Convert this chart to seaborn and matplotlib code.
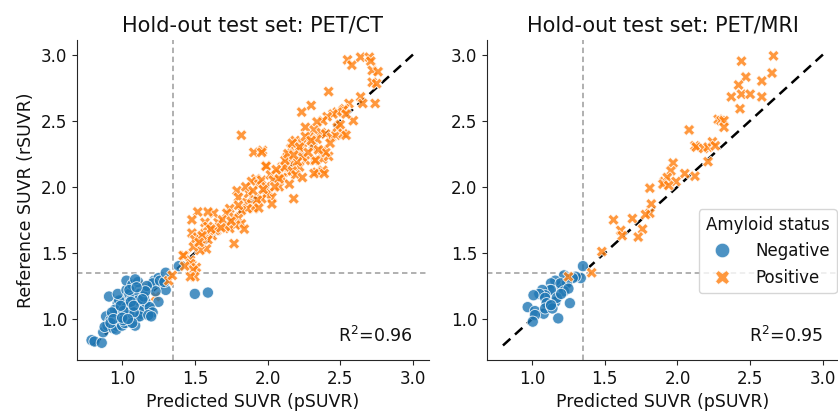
import numpy as np
import pandas as pd
import matplotlib
matplotlib.use("Agg")
import matplotlib.pyplot as plt
import seaborn as sns

# threshold (SUVR) and identity line extent
threshold = 1.35
identity = [0.8, 3.0]
r2_ct = 0.96
r2_mri = 0.95

# ---- PET/CT hold-out set ----
ct_neg_x = [0.79, 0.81, 0.86, 0.87, 0.91, 0.89, 0.92, 0.90, 0.88, 0.94, 0.96, 0.95, 0.98, 0.97, 0.99,
            1.02, 0.96, 1.00, 1.04, 1.05, 1.09, 1.11, 1.13, 1.02, 0.97, 0.97, 1.00, 1.03, 0.98, 0.95,
            1.03, 1.09, 0.97, 1.03, 1.05, 1.07, 1.11, 1.14, 1.15, 1.19, 1.19, 1.03, 1.07, 1.11, 1.09,
            1.12, 1.05, 1.16, 1.13, 1.18, 1.22, 1.25, 1.27, 1.21, 1.26, 1.30, 1.25, 1.19, 1.21, 1.18,
            1.20, 1.29, 1.30, 1.39, 1.50, 1.59, 1.12, 1.11, 1.05, 1.06, 1.08, 1.01, 1.15, 1.23, 1.17,
            0.93, 1.16, 1.10, 1.01, 1.07, 0.99, 0.92, 0.94, 1.00, 1.04, 1.08, 1.14]
ct_neg_y = [0.84, 0.83, 0.82, 0.90, 1.17, 1.02, 0.99, 0.95, 0.94, 0.93, 0.95, 0.99, 0.99, 1.04, 1.02,
            1.03, 0.92, 0.95, 1.07, 0.99, 0.95, 1.02, 1.04, 0.97, 1.12, 1.08, 1.14, 1.11, 1.14, 1.07,
            1.09, 1.09, 1.19, 1.22, 1.19, 1.16, 1.13, 1.11, 1.07, 1.03, 1.08, 1.29, 1.26, 1.28, 1.30,
            1.02, 1.03, 1.13, 1.19, 1.23, 1.29, 1.31, 1.27, 1.27, 1.29, 1.22, 1.13, 1.09, 1.05, 1.03,
            1.02, 1.28, 1.35, 1.40, 1.19, 1.20, 1.19, 1.14, 1.22, 1.13, 1.05, 1.06, 1.17, 1.21, 1.25,
            1.05, 1.21, 1.24, 0.99, 0.97, 1.10, 0.97, 1.00, 1.01, 1.00, 1.10, 1.15]
# positives partly hidden under the negative cluster
ct_pos_under_x = [1.155, 1.23]
ct_pos_under_y = [1.25, 1.17]
ct_pos_x = [2.55, 2.58, 2.64, 2.70, 2.71, 2.72, 2.76, 2.72, 2.75, 2.42, 2.64, 2.655, 2.74, 2.56, 2.59,
            2.53, 2.30, 2.235, 2.52, 2.48, 2.45, 2.41, 2.38, 2.34, 2.54, 2.26, 2.32, 2.37, 2.40, 2.44,
            2.47, 2.29, 2.34, 2.52, 2.54, 2.19, 2.24, 2.31, 2.38, 2.22, 2.16, 2.38, 2.32, 2.38, 2.34,
            2.26, 2.22, 2.16, 2.15, 2.10, 2.08, 1.99, 1.965, 2.26, 2.17, 2.22, 2.24, 2.205, 2.135, 2.12,
            2.17, 2.195, 2.24, 2.10, 2.15, 2.08, 2.18, 2.42, 2.40, 2.33, 2.32, 2.39,
            1.82, 1.905, 1.96, 1.99, 1.92, 1.89, 1.94, 1.96, 2.02, 2.04, 2.08, 1.99, 2.01, 2.03, 1.99,
            2.03, 1.96, 1.79, 1.80, 1.86, 1.89, 1.93, 1.905, 1.86, 1.82, 1.80, 1.94, 1.74, 1.72, 1.77,
            1.80, 1.82, 1.78, 1.74, 1.71, 1.66, 1.63, 1.59, 1.52, 1.84, 1.77, 1.48, 1.48, 1.52, 1.57,
            1.62, 1.65, 1.59, 1.55, 1.50, 1.58, 1.535, 1.49, 1.57, 1.59, 1.64, 1.43, 1.47, 1.48, 1.42,
            1.47, 1.51, 1.49, 1.50, 1.47, 1.43, 1.32, 1.345,
            1.87, 1.85, 1.90, 1.97, 2.05, 2.06, 2.12, 2.14, 2.18, 2.28, 2.30, 2.35, 2.43, 2.48, 2.50,
            1.69, 1.75, 1.68, 1.61, 1.55, 1.53]
ct_pos_y = [2.96, 2.92, 2.98, 2.98, 2.95, 2.88, 2.87, 2.79, 2.78, 2.72, 2.68, 2.63, 2.63, 2.63, 2.50,
            2.59, 2.615, 2.565, 2.58, 2.565, 2.55, 2.53, 2.50, 2.49, 2.55, 2.45, 2.43, 2.41, 2.40, 2.375,
            2.39, 2.375, 2.36, 2.40, 2.39, 2.35, 2.33, 2.30, 2.275, 2.275, 2.29, 2.21, 2.20, 2.125, 2.11,
            2.20, 2.15, 2.175, 2.11, 2.15, 2.10, 2.16, 2.275, 2.38, 2.33, 2.30, 2.225, 2.19, 2.225, 2.15,
            2.12, 2.09, 2.07, 2.07, 2.02, 2.00, 1.91, 2.23, 2.26, 2.20, 2.10, 2.10,
            2.39, 2.26, 2.26, 2.155, 2.06, 2.04, 2.02, 2.05, 2.09, 2.05, 2.06, 2.00, 1.96, 1.92, 1.94,
            1.87, 1.91, 1.97, 1.92, 1.885, 1.87, 1.90, 1.835, 1.835, 1.82, 1.86, 1.84, 1.835, 1.80, 1.77,
            1.76, 1.72, 1.71, 1.685, 1.70, 1.73, 1.80, 1.81, 1.81, 1.68, 1.57, 1.75, 1.65, 1.62, 1.65,
            1.63, 1.67, 1.60, 1.57, 1.60, 1.53, 1.52, 1.545, 1.73, 1.70, 1.67, 1.48, 1.445, 1.41, 1.48,
            1.42, 1.39, 1.37, 1.32, 1.32, 1.40, 1.29, 1.33,
            1.95, 2.00, 1.97, 1.98, 2.00, 2.13, 2.20, 2.25, 2.24, 2.26, 2.35, 2.28, 2.33, 2.45, 2.47,
            1.75, 1.74, 1.69, 1.68, 1.63, 1.58]

# ---- PET/MRI hold-out set ----
mri_neg_x = [1.35, 1.335, 1.30, 1.28, 1.22, 1.20, 1.16, 1.24, 1.13, 1.12, 1.196, 1.13, 1.22, 1.25, 1.07,
             1.09, 1.05, 1.01, 1.09, 1.16, 1.13, 1.10, 1.26, 0.97, 1.02, 1.08, 1.09, 1.13, 1.02, 1.005,
             1.18, 1.14, 1.17, 1.20, 1.13]
mri_neg_y = [1.40, 1.31, 1.32, 1.31, 1.33, 1.25, 1.29, 1.27, 1.27, 1.22, 1.27, 1.22, 1.21, 1.23, 1.22,
             1.18, 1.19, 1.18, 1.16, 1.13, 1.11, 1.12, 1.12, 1.09, 1.06, 1.04, 1.08, 1.10, 1.03, 0.98,
             1.005, 1.08, 1.16, 1.19, 1.105]
mri_pos_x = [2.66, 2.44, 2.65, 2.47, 2.42, 2.58, 2.37, 2.44, 2.50, 2.58, 2.43, 2.28, 2.30, 2.32, 2.32,
             2.08, 2.12, 2.13, 2.18, 2.21, 2.24, 2.26, 2.21, 2.12, 2.05, 1.97, 1.955, 1.91, 1.93, 1.99,
             1.90, 1.94, 1.81, 1.82, 1.81, 1.78, 1.69, 1.76, 1.73, 1.56, 1.61, 1.62, 1.48, 1.41, 1.25]
mri_pos_y = [2.99, 2.95, 2.86, 2.83, 2.77, 2.80, 2.68, 2.70, 2.70, 2.68, 2.59, 2.51, 2.50, 2.50, 2.45,
             2.43, 2.31, 2.30, 2.29, 2.30, 2.34, 2.31, 2.19, 2.08, 2.10, 2.18, 2.12, 2.04, 2.07, 2.04,
             2.02, 2.01, 1.99, 1.87, 1.80, 1.79, 1.76, 1.68, 1.62, 1.75, 1.67, 1.63, 1.51, 1.35, 1.32]


def make_frame(groups):
    parts = []
    for xs, ys, status in groups:
        parts.append(pd.DataFrame({"pSUVR": xs, "rSUVR": ys, "Amyloid status": status}))
    return pd.concat(parts, ignore_index=True)


ct_df = make_frame([(ct_pos_under_x, ct_pos_under_y, "Positive"),
                    (ct_neg_x, ct_neg_y, "Negative"),
                    (ct_pos_x, ct_pos_y, "Positive")])
mri_df = make_frame([(mri_neg_x, mri_neg_y, "Negative"),
                     (mri_pos_x, mri_pos_y, "Positive")])

sns.set_style("ticks")
plt.rcParams["font.family"] = ["DejaVu Sans"]
plt.rcParams["text.color"] = "#111111"
plt.rcParams["xtick.labelcolor"] = "#111111"
plt.rcParams["ytick.labelcolor"] = "#111111"
plt.rcParams["axes.labelcolor"] = "#111111"

fig = plt.figure(figsize=(8.38, 4.13), dpi=100)
ax1 = fig.add_axes([0.0919, 0.1283, 0.42, 0.7748])
ax2 = fig.add_axes([0.5811, 0.1283, 0.42, 0.7748])

palette = {"Negative": "#1f77b4", "Positive": "#ff7f0e"}
markers = {"Negative": "o", "Positive": "X"}

panels = [(ax1, ct_df, "Hold-out test set: PET/CT", r2_ct, False),
          (ax2, mri_df, "Hold-out test set: PET/MRI", r2_mri, True)]

for ax, df, title, r2, show_legend in panels:
    ax.plot(identity, identity, color="black", linestyle=(0, (4, 2.5)), linewidth=1.8, zorder=0)
    ax.axvline(threshold, color="#aaaaaa", linestyle=(0, (3, 2)), linewidth=1.3, zorder=0)
    ax.axhline(threshold, color="#aaaaaa", linestyle=(0, (3, 2)), linewidth=1.3, zorder=0)
    sns.scatterplot(data=df, x="pSUVR", y="rSUVR", hue="Amyloid status", style="Amyloid status",
                    hue_order=["Negative", "Positive"], style_order=["Negative", "Positive"],
                    palette=palette, markers=markers, s=65, alpha=0.8,
                    legend=show_legend, ax=ax)
    ax.set_xlim(0.69, 3.11)
    ax.set_ylim(0.69, 3.11)
    ax.set_xticks([1.0, 1.5, 2.0, 2.5, 3.0])
    ax.set_yticks([1.0, 1.5, 2.0, 2.5, 3.0])
    ax.tick_params(labelsize=12)
    ax.set_title(title, fontsize=15)
    ax.set_xlabel("Predicted SUVR (pSUVR)", fontsize=12.5)
    ax.text(0.955, 0.045, "R$^2$=%.2f" % r2, transform=ax.transAxes,
            ha="right", va="bottom", fontsize=12.5)
    sns.despine(ax=ax)

ax1.set_ylabel("Reference SUVR (rSUVR)", fontsize=12.5)
ax2.set_ylabel("")

sns.move_legend(ax2, loc="upper left", bbox_to_anchor=(0.578, 0.497),
                title="Amyloid status", fontsize=12, title_fontsize=12,
                frameon=True, markerscale=1.3, handletextpad=1.0)

fig.savefig("out.png", dpi=100)
